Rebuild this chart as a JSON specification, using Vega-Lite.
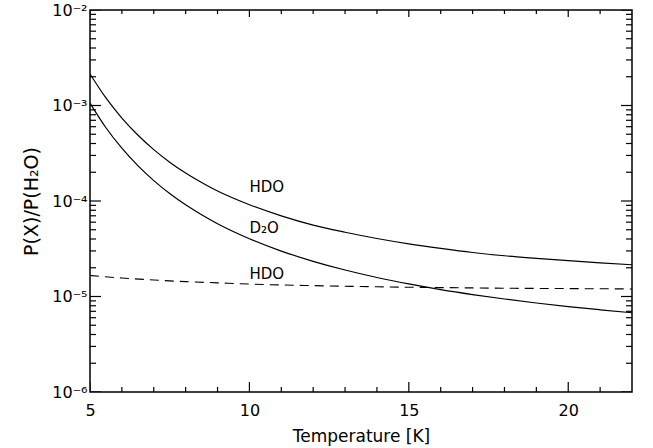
{
  "$schema": "https://vega.github.io/schema/vega-lite/v6.json",
  "width": 542,
  "height": 382,
  "autosize": {"type": "none"},
  "padding": {"left": 90, "top": 10, "right": 21, "bottom": 56},
  "background": "white",
  "config": {
    "view": {"stroke": "black", "strokeWidth": 1.5},
    "font": "DejaVu Sans",
    "tick": {"thickness": 1.2, "opacity": 1, "color": "black"},
    "axis": {
      "domain": false,
      "ticks": false,
      "labelColor": "black",
      "labelFont": "DejaVu Sans",
      "labelFontSize": 16,
      "titleFont": "DejaVu Sans",
      "titleFontSize": 17,
      "titleFontWeight": "normal",
      "titleColor": "black",
      "grid": false,
      "labelFlush": false
    }
  },
  "datasets": {
    "curves": [
      {"series": "HDO", "T": 5, "ratio": 0.00214},
      {"series": "HDO", "T": 5.5, "ratio": 0.00120},
      {"series": "HDO", "T": 6, "ratio": 0.000739},
      {"series": "HDO", "T": 6.5, "ratio": 0.000491},
      {"series": "HDO", "T": 7, "ratio": 0.000345},
      {"series": "HDO", "T": 7.5, "ratio": 0.000255},
      {"series": "HDO", "T": 8, "ratio": 0.000196},
      {"series": "HDO", "T": 8.5, "ratio": 0.000156},
      {"series": "HDO", "T": 9, "ratio": 0.000127},
      {"series": "HDO", "T": 10, "ratio": 0.0000914},
      {"series": "HDO", "T": 11, "ratio": 0.0000699},
      {"series": "HDO", "T": 12, "ratio": 0.0000559},
      {"series": "HDO", "T": 13, "ratio": 0.0000471},
      {"series": "HDO", "T": 14, "ratio": 0.0000405},
      {"series": "HDO", "T": 15, "ratio": 0.0000356},
      {"series": "HDO", "T": 16, "ratio": 0.0000319},
      {"series": "HDO", "T": 17, "ratio": 0.0000289},
      {"series": "HDO", "T": 18, "ratio": 0.0000267},
      {"series": "HDO", "T": 19, "ratio": 0.0000251},
      {"series": "HDO", "T": 20, "ratio": 0.0000237},
      {"series": "HDO", "T": 21, "ratio": 0.0000225},
      {"series": "HDO", "T": 22, "ratio": 0.0000215},
      {"series": "D2O", "T": 5, "ratio": 0.00106},
      {"series": "D2O", "T": 5.5, "ratio": 0.000585},
      {"series": "D2O", "T": 6, "ratio": 0.000357},
      {"series": "D2O", "T": 6.5, "ratio": 0.0002343},
      {"series": "D2O", "T": 7, "ratio": 0.0001636},
      {"series": "D2O", "T": 7.5, "ratio": 0.0001198},
      {"series": "D2O", "T": 8, "ratio": 0.0000912},
      {"series": "D2O", "T": 8.5, "ratio": 0.0000717},
      {"series": "D2O", "T": 9, "ratio": 0.0000579},
      {"series": "D2O", "T": 10, "ratio": 0.0000403},
      {"series": "D2O", "T": 11, "ratio": 0.0000299},
      {"series": "D2O", "T": 12, "ratio": 0.00002335},
      {"series": "D2O", "T": 13, "ratio": 0.00001893},
      {"series": "D2O", "T": 14, "ratio": 0.00001581},
      {"series": "D2O", "T": 15, "ratio": 0.00001354},
      {"series": "D2O", "T": 16, "ratio": 0.0000118},
      {"series": "D2O", "T": 17, "ratio": 0.00001047},
      {"series": "D2O", "T": 18, "ratio": 0.00000941},
      {"series": "D2O", "T": 19, "ratio": 0.00000855},
      {"series": "D2O", "T": 20, "ratio": 0.00000784},
      {"series": "D2O", "T": 21, "ratio": 0.00000726},
      {"series": "D2O", "T": 22, "ratio": 0.00000676}
    ],
    "hdoalt": [
      {"series": "HDO (alt)", "T": 5, "ratio": 0.0000166},
      {"series": "HDO (alt)", "T": 6, "ratio": 0.0000156},
      {"series": "HDO (alt)", "T": 7, "ratio": 0.0000149},
      {"series": "HDO (alt)", "T": 8, "ratio": 0.0000143},
      {"series": "HDO (alt)", "T": 9, "ratio": 0.0000139},
      {"series": "HDO (alt)", "T": 10, "ratio": 0.0000135},
      {"series": "HDO (alt)", "T": 11, "ratio": 0.0000132},
      {"series": "HDO (alt)", "T": 12, "ratio": 0.0000130},
      {"series": "HDO (alt)", "T": 13, "ratio": 0.0000128},
      {"series": "HDO (alt)", "T": 14, "ratio": 0.00001265},
      {"series": "HDO (alt)", "T": 15, "ratio": 0.0000125},
      {"series": "HDO (alt)", "T": 16, "ratio": 0.0000124},
      {"series": "HDO (alt)", "T": 17, "ratio": 0.0000123},
      {"series": "HDO (alt)", "T": 18, "ratio": 0.0000122},
      {"series": "HDO (alt)", "T": 19, "ratio": 0.00001215},
      {"series": "HDO (alt)", "T": 20, "ratio": 0.0000121},
      {"series": "HDO (alt)", "T": 21, "ratio": 0.00001205},
      {"series": "HDO (alt)", "T": 22, "ratio": 0.0000120}
    ],
    "labels": [
      {"label": "HDO", "T": 10, "ratio": 0.000141},
      {"label": "D₂O", "T": 10, "ratio": 0.0000527},
      {"label": "HDO", "T": 10, "ratio": 0.0000174}
    ],
    "xmajor": [{"T": 5}, {"T": 10}, {"T": 15}, {"T": 20}],
    "xminor": [{"T": 6}, {"T": 7}, {"T": 8}, {"T": 9}, {"T": 11}, {"T": 12}, {"T": 13}, {"T": 14}, {"T": 16}, {"T": 17}, {"T": 18}, {"T": 19}, {"T": 21}],
    "ymajor": [{"v": 0.000001}, {"v": 0.00001}, {"v": 0.0001}, {"v": 0.001}, {"v": 0.01}],
    "yminor": [
      {"v": 0.000002}, {"v": 0.000003}, {"v": 0.000004}, {"v": 0.000005}, {"v": 0.000006}, {"v": 0.000007}, {"v": 0.000008}, {"v": 0.000009},
      {"v": 0.00002}, {"v": 0.00003}, {"v": 0.00004}, {"v": 0.00005}, {"v": 0.00006}, {"v": 0.00007}, {"v": 0.00008}, {"v": 0.00009},
      {"v": 0.0002}, {"v": 0.0003}, {"v": 0.0004}, {"v": 0.0005}, {"v": 0.0006}, {"v": 0.0007}, {"v": 0.0008}, {"v": 0.0009},
      {"v": 0.002}, {"v": 0.003}, {"v": 0.004}, {"v": 0.005}, {"v": 0.006}, {"v": 0.007}, {"v": 0.008}, {"v": 0.009}
    ]
  },
  "layer": [
    {
      "data": {"name": "curves"},
      "mark": {"type": "line", "color": "black", "strokeWidth": 1.2, "interpolate": "monotone", "clip": true},
      "encoding": {
        "x": {
          "field": "T", "type": "quantitative",
          "scale": {"domain": [5, 22], "nice": false, "zero": false},
          "axis": {
            "orient": "bottom",
            "title": "Temperature [K]",
            "titlePadding": 10,
            "values": [5, 10, 15, 20],
            "labelPadding": 10
          }
        },
        "y": {
          "field": "ratio", "type": "quantitative",
          "scale": {"type": "log", "domain": [0.000001, 0.01], "nice": false},
          "axis": {
            "orient": "left",
            "title": "P(X)/P(H₂O)",
            "titleFontSize": 19,
            "titlePadding": 10,
            "values": [0.000001, 0.00001, 0.0001, 0.001, 0.01],
            "labelExpr": "round(log(datum.value)/LN10) == -2 ? '10⁻²' : round(log(datum.value)/LN10) == -3 ? '10⁻³' : round(log(datum.value)/LN10) == -4 ? '10⁻⁴' : round(log(datum.value)/LN10) == -5 ? '10⁻⁵' : '10⁻⁶'",
            "labelPadding": 3
          }
        },
        "detail": {"field": "series", "type": "nominal"}
      }
    },
    {
      "data": {"name": "hdoalt"},
      "mark": {"type": "line", "color": "black", "strokeWidth": 1.1, "strokeDash": [9, 6], "interpolate": "monotone", "clip": true},
      "encoding": {
        "x": {"field": "T", "type": "quantitative", "axis": null},
        "y": {"field": "ratio", "type": "quantitative", "axis": null}
      }
    },
    {
      "data": {"name": "labels"},
      "mark": {"type": "text", "align": "left", "baseline": "middle", "fontSize": 15, "font": "DejaVu Sans", "color": "black"},
      "encoding": {
        "x": {"field": "T", "type": "quantitative", "axis": null},
        "y": {"field": "ratio", "type": "quantitative", "axis": null},
        "text": {"field": "label", "type": "nominal"}
      }
    },
    {
      "data": {"name": "xmajor"},
      "mark": {"type": "tick", "orient": "vertical", "size": 20, "clip": true},
      "encoding": {
        "x": {"field": "T", "type": "quantitative", "axis": null},
        "y": {"datum": 0.000001, "type": "quantitative", "axis": null}
      }
    },
    {
      "data": {"name": "xmajor"},
      "mark": {"type": "tick", "orient": "vertical", "size": 14, "clip": true},
      "encoding": {
        "x": {"field": "T", "type": "quantitative", "axis": null},
        "y": {"datum": 0.01, "type": "quantitative", "axis": null}
      }
    },
    {
      "data": {"name": "xminor"},
      "mark": {"type": "tick", "orient": "vertical", "size": 10, "clip": true},
      "encoding": {
        "x": {"field": "T", "type": "quantitative", "axis": null},
        "y": {"datum": 0.000001, "type": "quantitative", "axis": null}
      }
    },
    {
      "data": {"name": "xminor"},
      "mark": {"type": "tick", "orient": "vertical", "size": 8, "clip": true},
      "encoding": {
        "x": {"field": "T", "type": "quantitative", "axis": null},
        "y": {"datum": 0.01, "type": "quantitative", "axis": null}
      }
    },
    {
      "data": {"name": "ymajor"},
      "mark": {"type": "tick", "orient": "horizontal", "size": 22, "clip": true},
      "encoding": {
        "x": {"datum": 5, "type": "quantitative", "axis": null},
        "y": {"field": "v", "type": "quantitative", "axis": null}
      }
    },
    {
      "data": {"name": "ymajor"},
      "mark": {"type": "tick", "orient": "horizontal", "size": 22, "clip": true},
      "encoding": {
        "x": {"datum": 22, "type": "quantitative", "axis": null},
        "y": {"field": "v", "type": "quantitative", "axis": null}
      }
    },
    {
      "data": {"name": "yminor"},
      "mark": {"type": "tick", "orient": "horizontal", "size": 12, "clip": true},
      "encoding": {
        "x": {"datum": 5, "type": "quantitative", "axis": null},
        "y": {"field": "v", "type": "quantitative", "axis": null}
      }
    },
    {
      "data": {"name": "yminor"},
      "mark": {"type": "tick", "orient": "horizontal", "size": 12, "clip": true},
      "encoding": {
        "x": {"datum": 22, "type": "quantitative", "axis": null},
        "y": {"field": "v", "type": "quantitative", "axis": null}
      }
    }
  ],
  "resolve": {"axis": {"x": "independent", "y": "independent"}}
}
